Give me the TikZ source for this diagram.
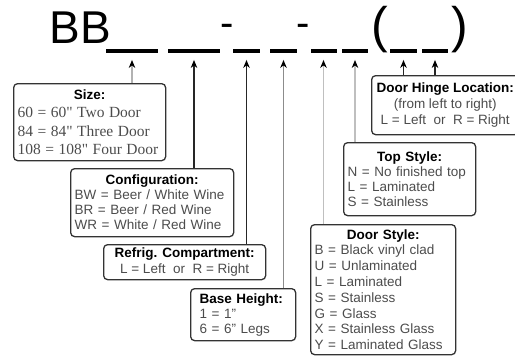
\documentclass[tikz,border=0pt]{standalone}
\usepackage{fontspec}
\setmainfont{Liberation Sans}
\newfontfamily\sizefont{Liberation Serif}
\usepackage{xcolor}
\usetikzlibrary{arrows.meta,positioning}
\tikzset{>={Stealth[length=8pt,width=6.5pt,color=black]}}
\newcommand{\boxtitle}[1]{\textcolor{black}{\bfseries #1}}

\begin{document}
\begin{tikzpicture}[x=1pt, y=-1pt,
    every node/.style={inner sep=0pt},
    code/.style={font=\fontsize{46}{46}\selectfont},
    blank/.style={fill=black, minimum height=3.5pt},
    keybox/.style={draw=black!80, line width=1.3pt, rounded corners=4pt,
      anchor=north west, inner xsep=4pt, text=black!70,
      font=\fontsize{13.5}{15}\selectfont},
    lead/.style={->, line width=1.2pt}]
  \useasboundingbox (0,0) rectangle (515,356);

  % Model number
  \node[code, anchor=base west] (bb) at (49.5,43) {BB};
  \node[blank, minimum width=52pt] (b1) at (132,51) {};
  \node[blank, minimum width=52pt] (b2) at (194,51) {};
  \node[code, anchor=base, font=\fontsize{40}{40}\selectfont] (d1) at (227,37) {-};
  \node[blank, minimum width=27pt] (b3) at (246.5,51) {};
  \node[blank, minimum width=27pt] (b4) at (283.5,51) {};
  \node[code, anchor=base, font=\fontsize{40}{40}\selectfont] (d2) at (303,37) {-};
  \node[blank, minimum width=26pt] (b5) at (323.5,51) {};
  \node[blank, minimum width=26pt] (b6) at (355,51) {};
  \node[anchor=base, font=\fontsize{50}{50}\selectfont] (lp) at (380,42) {(};
  \node[blank, minimum width=27pt] (b7) at (403.5,51) {};
  \node[blank, minimum width=26pt] (b8) at (435,51) {};
  \node[anchor=base, font=\fontsize{50}{50}\selectfont] (rp) at (460,42) {)};

  % Key boxes
  \node[keybox, text width=144pt, minimum height=77pt] (size) at (13,83)
    {\centering\boxtitle{Size:}\par\raggedright\sizefont\fontsize{15.5}{18.5}\selectfont
     60 = 60" Two Door\\84 = 84" Three Door\\108 = 108" Four Door\par};
  \node[keybox, text width=155pt, minimum height=68pt] (config) at (70,168)
    {\centering\boxtitle{Configuration:}\par\raggedright
     BW = Beer / White Wine\\BR = Beer / Red Wine\\WR = White / Red Wine\par};
  \node[keybox, align=center, minimum width=162pt, minimum height=35pt,
    font=\fontsize{13.5}{16.5}\selectfont] (refrig) at (103,244)
    {\boxtitle{Refrig. Compartment:}\\L = Left~ or~ R = Right};
  \node[keybox, inner xsep=9pt, text width=87pt, minimum height=52pt] (base) at (190,288)
    {\raggedright\boxtitle{Base Height:}\\1 = 1"\\6 = 6" Legs\par};
  \node[keybox, text width=137pt, minimum height=130pt,
    font=\fontsize{13.5}{15.8}\selectfont] (door) at (310,224)
    {\centering\boxtitle{Door Style:}\par\raggedright
     B = Black vinyl clad\\U = Unlaminated\\L = Laminated\\S = Stainless\\
     G = Glass\\X = Stainless Glass\\Y = Laminated Glass\par};
  \node[keybox, text width=124pt, minimum height=73pt] (top) at (343,142)
    {\centering\boxtitle{Top Style:}\par\raggedright
     N = No finished top\\L = Laminated\\S = Stainless\par};
  \node[keybox, align=center, minimum width=147pt, minimum height=59pt,
    font=\fontsize{13.5}{16}\selectfont] (hinge) at (371,75)
    {\boxtitle{Door Hinge Location:}\\(from left to right)\\L = Left~ or~ R = Right};

  % Leaders
  \draw[lead, draw=black!30] (size.north -| b1) -- ([yshift=-7pt]b1.south);
  \draw[lead, draw=black!85] (config.north -| b2) -- ([yshift=-7pt]b2.south);
  \draw[lead, draw=black!85] (refrig.north -| b3) -- ([yshift=-7pt]b3.south);
  \draw[lead, draw=black!45] (base.north -| b4) -- ([yshift=-7pt]b4.south);
  \draw[lead, draw=black!25] (door.north -| b5) -- ([yshift=-7pt]b5.south);
  \draw[lead, draw=black!25] (top.north -| b6) -- ([yshift=-7pt]b6.south);
  \draw[lead, draw=black!85] (hinge.north -| b7) -- ([yshift=-7pt]b7.south);
  \draw[lead, draw=black!85] (hinge.north -| b8) -- ([yshift=-7pt]b8.south);
\end{tikzpicture}
\end{document}
